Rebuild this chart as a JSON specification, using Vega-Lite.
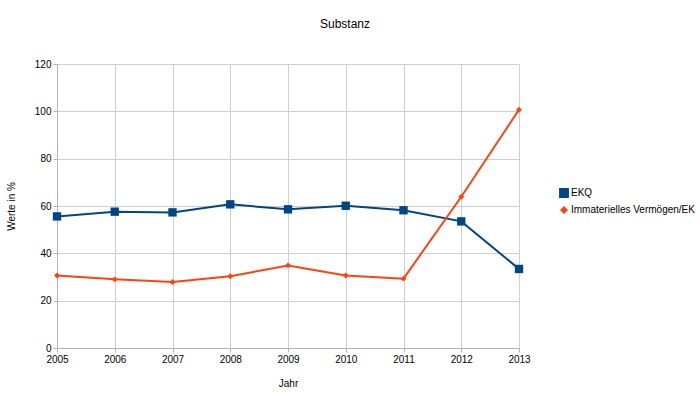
{
  "$schema": "https://vega.github.io/schema/vega-lite/v6.json",
  "width": 462,
  "height": 284,
  "autosize": {"type": "none"},
  "padding": {"left": 57, "top": 64, "right": 181, "bottom": 45},
  "background": "white",
  "config": {
    "font": "Liberation Sans",
    "view": {"stroke": null},
    "axis": {
      "labelFont": "Liberation Sans",
      "titleFont": "Liberation Sans",
      "labelFontSize": 10,
      "titleFontSize": 10,
      "titleFontWeight": "normal",
      "labelColor": "#000000",
      "titleColor": "#000000",
      "gridColor": "#cfcfcf",
      "domainColor": "#b3b3b3",
      "tickColor": "#b3b3b3",
      "tickSize": 4
    }
  },
  "title": {
    "text": "Substanz",
    "font": "Liberation Sans",
    "fontSize": 12,
    "fontWeight": "normal",
    "color": "#000000",
    "anchor": "middle",
    "frame": "group",
    "dx": 57,
    "offset": 28
  },
  "data": {
    "values": [
      {"Jahr": "2005", "Serie": "EKQ", "Wert": 55.6},
      {"Jahr": "2006", "Serie": "EKQ", "Wert": 57.6},
      {"Jahr": "2007", "Serie": "EKQ", "Wert": 57.3},
      {"Jahr": "2008", "Serie": "EKQ", "Wert": 60.7},
      {"Jahr": "2009", "Serie": "EKQ", "Wert": 58.6},
      {"Jahr": "2010", "Serie": "EKQ", "Wert": 60.1},
      {"Jahr": "2011", "Serie": "EKQ", "Wert": 58.2},
      {"Jahr": "2012", "Serie": "EKQ", "Wert": 53.5},
      {"Jahr": "2013", "Serie": "EKQ", "Wert": 33.4},
      {"Jahr": "2005", "Serie": "Immaterielles Vermögen/EK", "Wert": 30.6},
      {"Jahr": "2006", "Serie": "Immaterielles Vermögen/EK", "Wert": 29.0},
      {"Jahr": "2007", "Serie": "Immaterielles Vermögen/EK", "Wert": 27.9},
      {"Jahr": "2008", "Serie": "Immaterielles Vermögen/EK", "Wert": 30.3},
      {"Jahr": "2009", "Serie": "Immaterielles Vermögen/EK", "Wert": 34.9},
      {"Jahr": "2010", "Serie": "Immaterielles Vermögen/EK", "Wert": 30.6},
      {"Jahr": "2011", "Serie": "Immaterielles Vermögen/EK", "Wert": 29.3},
      {"Jahr": "2012", "Serie": "Immaterielles Vermögen/EK", "Wert": 63.9},
      {"Jahr": "2013", "Serie": "Immaterielles Vermögen/EK", "Wert": 100.7}
    ]
  },
  "encoding": {
    "x": {
      "field": "Jahr",
      "type": "ordinal",
      "scale": {"type": "point", "padding": 0},
      "axis": {"title": "Jahr", "labelAngle": 0, "grid": true, "titlePadding": 14, "labelPadding": 2}
    },
    "y": {
      "field": "Wert",
      "type": "quantitative",
      "scale": {"domain": [0, 120]},
      "axis": {"title": "Werte in %", "values": [0, 20, 40, 60, 80, 100, 120], "titlePadding": 18, "labelPadding": 2}
    },
    "color": {
      "field": "Serie",
      "type": "nominal",
      "scale": {"domain": ["EKQ", "Immaterielles Vermögen/EK"], "range": ["#004586", "#ff420e"]},
      "legend": {
        "title": null,
        "orient": "none",
        "legendX": 502,
        "legendY": 124,
        "labelFont": "Liberation Sans",
        "labelFontSize": 10,
        "labelColor": "#000000",
        "symbolSize": 30,
        "labelOffset": 2,
        "rowPadding": 3
      }
    }
  },
  "layer": [
    {"mark": {"type": "line", "strokeWidth": 2}},
    {
      "mark": {"type": "point", "filled": true, "opacity": 1},
      "encoding": {
        "shape": {
          "field": "Serie",
          "type": "nominal",
          "scale": {"domain": ["EKQ", "Immaterielles Vermögen/EK"], "range": ["square", "diamond"]},
          "legend": {
            "title": null,
            "orient": "none",
            "legendX": 502,
            "legendY": 124,
            "labelFont": "Liberation Sans",
            "labelFontSize": 10,
            "labelColor": "#000000",
            "symbolSize": 30,
            "labelOffset": 2,
            "rowPadding": 3
          }
        },
        "size": {
          "field": "Serie",
          "type": "nominal",
          "scale": {"domain": ["EKQ", "Immaterielles Vermögen/EK"], "range": [70, 35]},
          "legend": null
        }
      }
    }
  ]
}
